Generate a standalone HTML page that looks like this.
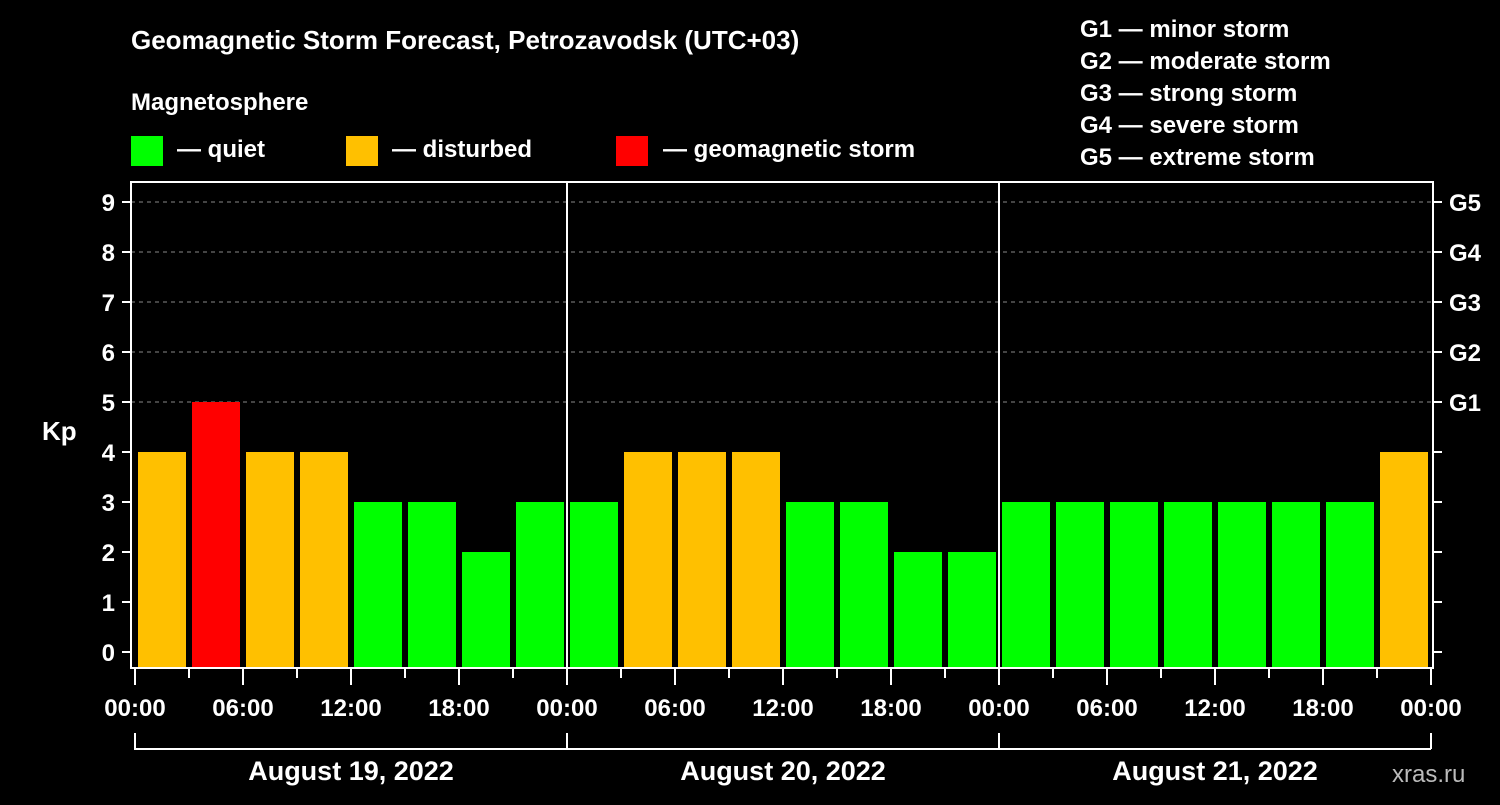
<!DOCTYPE html>
<html><head><meta charset="utf-8"><style>
body{margin:0;background:#000;width:1500px;height:800px;overflow:hidden}
svg text{font-family:"Liberation Sans",sans-serif;font-weight:bold;fill:#fff}
</style></head><body>
<svg id="c" width="1500" height="800" xmlns="http://www.w3.org/2000/svg">
<text x="131" y="49" font-size="26">Geomagnetic Storm Forecast, Petrozavodsk (UTC+03)</text>
<text x="131" y="110" font-size="24">Magnetosphere</text>
<g>
<rect x="131" y="136" width="32" height="30" fill="#00ff00"/>
<text x="177" y="157" font-size="24">— quiet</text>
<rect x="346" y="136" width="32" height="30" fill="#ffc000"/>
<text x="392" y="157" font-size="24">— disturbed</text>
<rect x="616" y="136" width="32" height="30" fill="#ff0000"/>
<text x="663" y="157" font-size="24">— geomagnetic storm</text>
</g>
<g font-size="24">
<text x="1080" y="37">G1 — minor storm</text>
<text x="1080" y="69">G2 — moderate storm</text>
<text x="1080" y="101">G3 — strong storm</text>
<text x="1080" y="133">G4 — severe storm</text>
<text x="1080" y="165">G5 — extreme storm</text>
</g>
<text x="42" y="440" font-size="26">Kp</text>
<text x="1392" y="782" font-size="24" fill="#bbb" style="fill:#bbb;font-weight:normal">xras.ru</text>
<g id="plot"></g>
</svg>
<script>
const days = ["August 19, 2022","August 20, 2022","August 21, 2022"];
const kpValues = [4,5,4,4,3,3,2,3, 3,4,4,4,3,3,2,2, 3,3,3,3,3,3,3,4];
const yTicks = [0,1,2,3,4,5,6,7,8,9];
const gLabels = [[5,"G1"],[6,"G2"],[7,"G3"],[8,"G4"],[9,"G5"]];
const hourLabels = ["00:00","06:00","12:00","18:00"];

const NS="http://www.w3.org/2000/svg";
const g=document.getElementById('plot');
const L=131,R=1433,T=182,B=668,X0=135,DAYW=432;
const y=v=>652-50*v;
const x=h=>X0+h*DAYW/24;
function mk(tag,a,txt){const e=document.createElementNS(NS,tag);for(const k in a)e.setAttribute(k,a[k]);if(txt!==undefined)e.textContent=txt;g.appendChild(e);return e;}
// grid
yTicks.forEach(v=>{
 if(v>=5){const e=mk('line',{x1:L,x2:R,y1:y(v),y2:y(v),stroke:'#888','stroke-dasharray':'4,4','stroke-width':1});
 
 }
 const t=mk('line',{x1:L-9,x2:L,y1:y(v),y2:y(v),stroke:'#fff','stroke-width':2});
 
 
 const t2=mk('line',{x1:R,x2:R+9,y1:y(v),y2:y(v),stroke:'#fff','stroke-width':2});
 
 
 const l=mk('text',{x:L-16,y:y(v)+9,'font-size':24,'text-anchor':'end'},String(v));
 
 
});
gLabels.forEach(([v,s])=>{
 const l=mk('text',{x:R+16,y:y(v)+9,'font-size':24},s);
 
 
});
const col=v=>v>=5?'#ff0000':(v>=4?'#ffc000':'#00ff00');
kpValues.forEach((v,i)=>{
 const r=mk('rect',{x:x(i*3)+3,y:y(v),width:48,height:B-y(v),fill:col(v)});
 
 
});
// frame
const f=mk('rect',{x:L,y:T,width:R-L,height:B-T,fill:'none',stroke:'#fff','stroke-width':2});


days.forEach((d,di)=>{
 if(di>0){const s=mk('line',{x1:x(di*24),x2:x(di*24),y1:T,y2:B,stroke:'#fff','stroke-width':2});
 
 }
 for(let h=0;h<24;h+=3){
  const major=h%6===0;
  const t=mk('line',{x1:x(di*24+h),x2:x(di*24+h),y1:B,y2:B+(major?17:10),stroke:'#fff','stroke-width':2});
  
  
  if(major){const l=mk('text',{x:x(di*24+h),y:B+48,'font-size':24,'text-anchor':'middle'},hourLabels[h/6]);
  
  }
 }
 const br=mk('path',{d:`M${x(di*24)} 733V749H${x(di*24+24)}`,stroke:'#fff','stroke-width':2,fill:'none'});
 
 
 const dl=mk('text',{x:x(di*24+12),y:780,'font-size':27,'text-anchor':'middle'},d);
 
 
});
const t=mk('line',{x1:x(72),x2:x(72),y1:B,y2:B+17,stroke:'#fff','stroke-width':2});


const l=mk('text',{x:x(72),y:B+48,'font-size':24,'text-anchor':'middle'},hourLabels[0]);


const be=mk('line',{x1:x(72),x2:x(72),y1:733,y2:749,stroke:'#fff','stroke-width':2});


</script>
</body></html>
